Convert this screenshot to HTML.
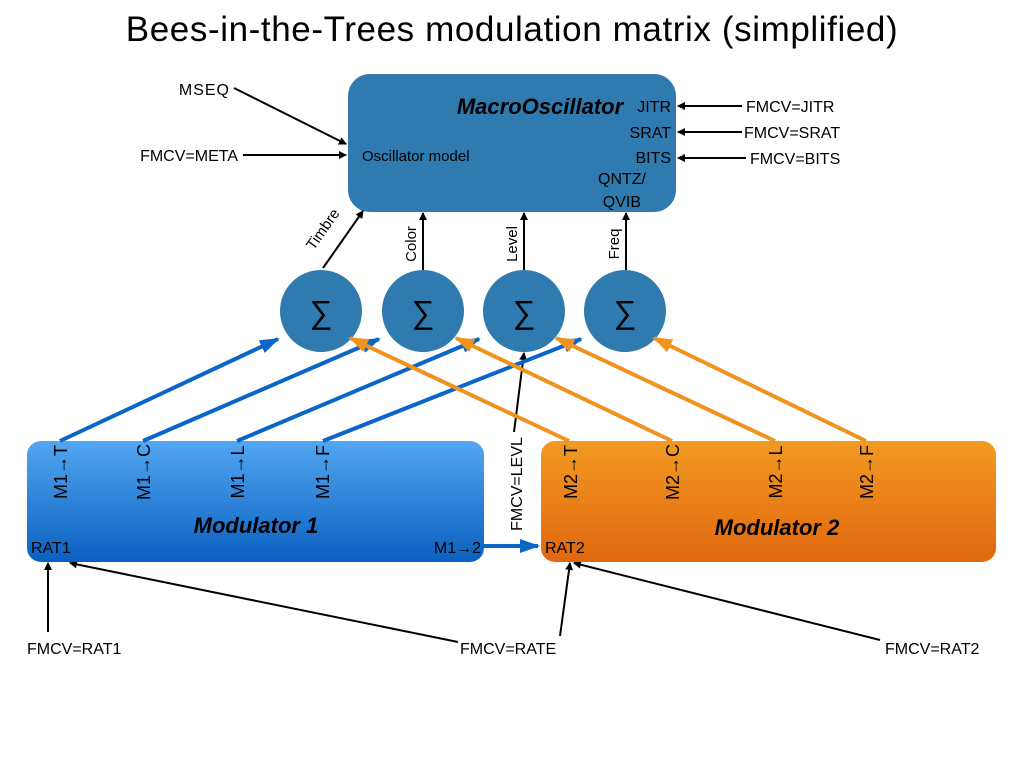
<!DOCTYPE html>
<html><head><meta charset="utf-8"><style>
html,body{margin:0;padding:0;background:#fff;}
svg{display:block;font-family:"Liberation Sans",sans-serif;}
</style></head><body>
<svg width="1024" height="768" viewBox="0 0 1024 768" xmlns="http://www.w3.org/2000/svg">
<defs>
<linearGradient id="g1" x1="0" y1="0" x2="0" y2="1"><stop offset="0" stop-color="#52a6f2"/><stop offset="1" stop-color="#0a60bf"/></linearGradient>
<linearGradient id="g2" x1="0" y1="0" x2="0" y2="1"><stop offset="0" stop-color="#f29a22"/><stop offset="1" stop-color="#e0670f"/></linearGradient>
<marker id="ak" markerWidth="8" markerHeight="8" refX="7" refY="4" orient="auto" markerUnits="userSpaceOnUse"><path d="M0,0 L8,4 L0,8 z" fill="#000"/></marker>
<marker id="ab" markerWidth="20" markerHeight="14" refX="18" refY="7" orient="auto" markerUnits="userSpaceOnUse"><path d="M0,0 L20,7 L0,14 z" fill="#0a66c6"/></marker>
<marker id="ao" markerWidth="20" markerHeight="14" refX="18" refY="7" orient="auto" markerUnits="userSpaceOnUse"><path d="M0,0 L20,7 L0,14 z" fill="#f0921e"/></marker>
</defs>
<text x="512" y="41" font-size="35" letter-spacing="0.6" text-anchor="middle" fill="#000">Bees-in-the-Trees modulation matrix (simplified)</text>

<rect x="348" y="74" width="328" height="138" rx="22" fill="#2f7aae"/>
<text x="540" y="114" font-size="22" font-weight="bold" font-style="italic" text-anchor="middle">MacroOscillator</text>
<text x="362" y="161" font-size="15">Oscillator model</text>
<g font-size="16" text-anchor="end"><text x="671" y="112">JITR</text><text x="671" y="138">SRAT</text><text x="671" y="163">BITS</text><text x="646" y="184">QNTZ/</text><text x="641" y="207">QVIB</text></g>

<g fill="#2f7aae"><circle cx="321" cy="311" r="41"/><circle cx="423" cy="311" r="41"/><circle cx="524" cy="311" r="41"/><circle cx="625" cy="311" r="41"/></g>
<g font-size="32" text-anchor="middle" font-weight="normal"><text x="321" y="323">∑</text><text x="423" y="323">∑</text><text x="524" y="323">∑</text><text x="625" y="323">∑</text></g>

<g stroke="#000" stroke-width="2" marker-end="url(#ak)">
<line x1="323" y1="268" x2="363" y2="211"/>
<line x1="423" y1="270" x2="423" y2="213"/>
<line x1="524" y1="270" x2="524" y2="213"/>
<line x1="626" y1="270" x2="626" y2="213"/>
<line x1="234" y1="88" x2="346" y2="144"/>
<line x1="243" y1="155" x2="346" y2="155"/>
<line x1="742" y1="106" x2="678" y2="106"/>
<line x1="742" y1="132" x2="678" y2="132"/>
<line x1="746" y1="158" x2="678" y2="158"/>
<line x1="48" y1="632" x2="48" y2="563"/>
<line x1="458" y1="642" x2="70" y2="563"/>
<line x1="560" y1="636" x2="570" y2="563"/>
<line x1="880" y1="640" x2="574" y2="563"/>
<line x1="514" y1="432" x2="524" y2="353"/>
</g>
<text transform="translate(327,232) rotate(-55)" font-size="15" text-anchor="middle">Timbre</text>
<text transform="translate(416,244) rotate(-90)" font-size="15" text-anchor="middle">Color</text>
<text transform="translate(517,244) rotate(-90)" font-size="15" text-anchor="middle">Level</text>
<text transform="translate(619,244) rotate(-90)" font-size="15" text-anchor="middle">Freq</text>

<g font-size="16">
<text x="230" y="95" text-anchor="end" letter-spacing="1">MSEQ</text>
<text x="238" y="161" text-anchor="end">FMCV=META</text>
<text x="746" y="112">FMCV=JITR</text>
<text x="744" y="138">FMCV=SRAT</text>
<text x="750" y="164">FMCV=BITS</text>
<text x="27" y="654">FMCV=RAT1</text>
<text x="460" y="654">FMCV=RATE</text>
<text x="885" y="654">FMCV=RAT2</text>
</g>

<rect x="27" y="441" width="457" height="121" rx="14" fill="url(#g1)"/>
<rect x="541" y="441" width="455" height="121" rx="14" fill="url(#g2)"/>

<g stroke="#0a66c6" stroke-width="4" fill="none" marker-end="url(#ab)">
<line x1="60" y1="441" x2="278" y2="339"/>
<line x1="143" y1="441" x2="379" y2="339"/>
<line x1="237" y1="441" x2="479" y2="339"/>
<line x1="323" y1="441" x2="581" y2="339"/>
<line x1="484" y1="546" x2="538" y2="546"/>
</g>
<g stroke="#f0921e" stroke-width="4" fill="none" marker-end="url(#ao)">
<line x1="569" y1="441" x2="350" y2="338"/>
<line x1="672" y1="441" x2="456" y2="338"/>
<line x1="775" y1="441" x2="556" y2="338"/>
<line x1="866" y1="441" x2="654" y2="338"/>
</g>

<g font-size="18" text-anchor="middle">
<text transform="translate(67,472) rotate(-90)">M1→T</text>
<text transform="translate(150,472) rotate(-90)">M1→C</text>
<text transform="translate(244,472) rotate(-90)">M1→L</text>
<text transform="translate(329,472) rotate(-90)">M1→F</text>
<text transform="translate(577,472) rotate(-90)">M2→T</text>
<text transform="translate(679,472) rotate(-90)">M2→C</text>
<text transform="translate(782,472) rotate(-90)">M2→L</text>
<text transform="translate(873,472) rotate(-90)">M2→F</text>
<text transform="translate(522,484) rotate(-90)" font-size="16">FMCV=LEVL</text>
</g>
<text x="256" y="533" font-size="22" font-weight="bold" font-style="italic" text-anchor="middle">Modulator 1</text>
<text x="777" y="535" font-size="22" font-weight="bold" font-style="italic" text-anchor="middle">Modulator 2</text>
<g font-size="16"><text x="31" y="553">RAT1</text><text x="481" y="553" text-anchor="end">M1→2</text><text x="545" y="553">RAT2</text></g>
</svg>
</body></html>
